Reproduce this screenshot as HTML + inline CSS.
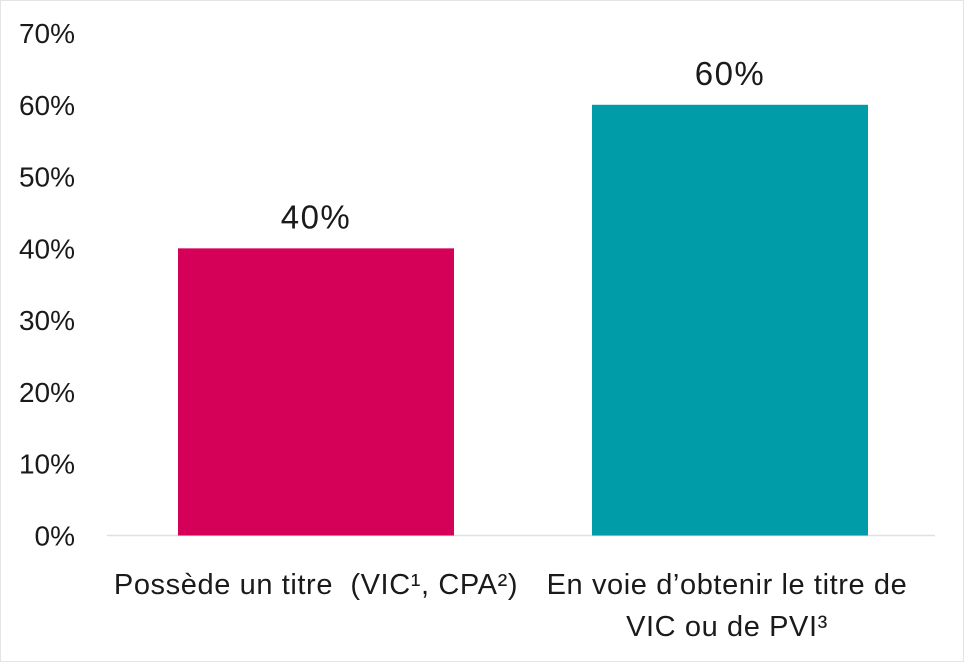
<!DOCTYPE html>
<html><head><meta charset="utf-8"><style>
html,body{margin:0;padding:0;background:#fff;}
svg{display:block;font-family:"Liberation Sans",sans-serif;}
text{white-space:pre;}
</style></head><body>
<svg id="chart" width="964" height="662">
<rect x="0.5" y="0.5" width="963" height="661" fill="#fff" stroke="#e4e4e4"/>
<g id="yaxis"></g>
<line x1="107" y1="535.5" x2="935" y2="535.5" stroke="#e0e0e0" stroke-width="1.5"/>
<g id="bars"></g>
<g id="xlabels"></g>
</svg>
<script>
const categories = [["Possède un titre  (VIC¹, CPA²)"], ["En voie d’obtenir le titre de", "VIC ou de PVI³"]];
const values = [40, 60];
const valueLabels = ["40%", "60%"];
const colors = ["#d50057", "#009ca7"];
const yTicks = [0, 10, 20, 30, 40, 50, 60, 70];
const yTickLabels = ["0%", "10%", "20%", "30%", "40%", "50%", "60%", "70%"];

const NS = "http://www.w3.org/2000/svg";
const y0 = 535.5, yTop = 33, yMax = 70;
function yScale(v){ return y0 - (v / yMax) * (y0 - yTop); }
const plotLeft = 107, plotRight = 935;
const band = (plotRight - plotLeft) / categories.length;
const barW = 276;
function xCenter(i){ return plotLeft + band * (i + 0.5) + 2; }

function mk(tag, attrs, parent){
  const e = document.createElementNS(NS, tag);
  for (const k in attrs) e.setAttribute(k, attrs[k]);
  parent.appendChild(e); return e;
}
const ya = document.getElementById("yaxis");
yTicks.forEach((t, i) => {
  const tx = mk("text", {x: 75, y: yScale(t) + 10, "text-anchor": "end", "font-size": "28", fill: "#1a1a1a"}, ya);
  
  
  tx.textContent = yTickLabels[i];
});
const bg = document.getElementById("bars");
values.forEach((v, i) => {
  const cx = xCenter(i);
  const r = mk("rect", {x: cx - barW/2, y: yScale(v), width: barW, height: y0 - yScale(v), fill: colors[i]}, bg);
  
  
  const t = mk("text", {x: cx, y: yScale(v) - 20, "text-anchor": "middle", "font-size": "33", "letter-spacing": "1.5", fill: "#1a1a1a"}, bg);
  
  
  t.textContent = valueLabels[i];
});
const xl = document.getElementById("xlabels");
categories.forEach((lines, i) => {
  lines.forEach((ln, j) => {
    const t = mk("text", {x: xCenter(i) - (i===1?3:0), y: 594 + j * 42, "text-anchor": "middle", "font-size": "29", "letter-spacing": "0.6", fill: "#1a1a1a"}, xl);
    
    
    t.textContent = ln;
  });
});
</script>
</body></html>
